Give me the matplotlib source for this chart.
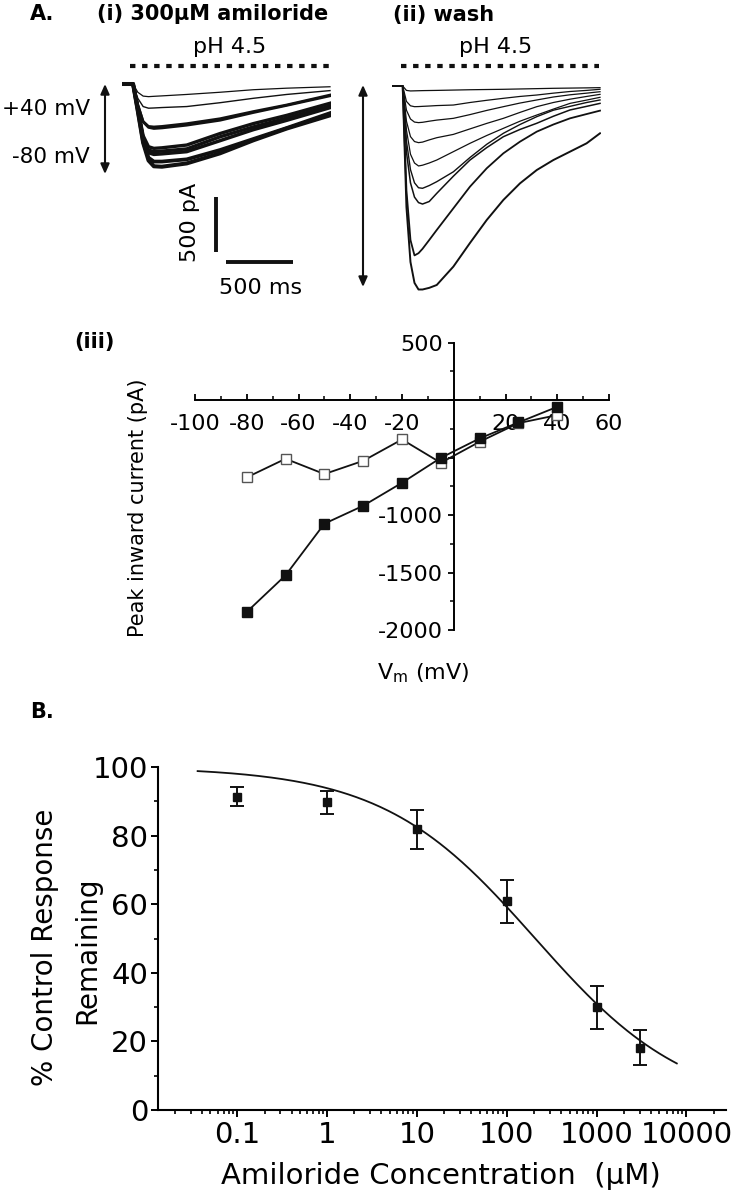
import numpy as np
import matplotlib.pyplot as plt
from matplotlib.ticker import FixedLocator, LogLocator, MultipleLocator, NullFormatter

plt.rcParams['font.family'] = ['DejaVu Sans']

# ---------------- data ----------------
# A(i) 300 uM amiloride: current (pA) on a common time grid (ms), one list per step potential
amil_t = [0, 85, 120, 160, 200, 240, 300, 485, 734, 982, 1231, 1554]
amil_traces = [
    [0, 0, -75, -110, -115, -112, -108, -95, -75, -52, -38, -25],         # +40
    [0, 0, -130, -205, -220, -218, -214, -205, -170, -130, -95, -60],     # +25
    [0, 0, -190, -340, -385, -390, -385, -360, -315, -250, -190, -100],   # +10
    [0, 0, -185, -345, -395, -405, -400, -375, -330, -260, -195, -108],   # -20
    [0, 0, -220, -470, -570, -585, -580, -555, -450, -360, -285, -175],   # -65
    [0, 0, -225, -490, -600, -615, -610, -590, -480, -390, -310, -200],   # -35
    [0, 0, -230, -500, -625, -640, -635, -615, -515, -415, -330, -215],   # -5
    [0, 0, -240, -525, -670, -705, -705, -685, -600, -500, -400, -265],   # -50
    [0, 0, -245, -535, -695, -748, -752, -722, -630, -512, -405, -285],   # -80
]
amil_lw = [0.9, 1.0, 1.9, 1.9, 2.4, 2.4, 2.5, 2.7, 2.9]

# A(ii) wash
wash_t = [0, 82, 110, 140, 170, 200, 230, 280, 336, 460, 584, 709, 833, 957, 1082, 1206, 1330, 1454, 1554]
wash_traces = [
    [0, 0, -40, -45, -44, -43, -42, -41, -40, -37, -34, -32, -30, -27, -24, -21, -19, -17, -15],                   # +40
    [0, 0, -140, -180, -188, -187, -185, -182, -178, -173, -150, -130, -112, -95, -82, -65, -50, -40, -30],        # +25
    [0, 0, -220, -300, -328, -333, -330, -320, -310, -294, -260, -222, -188, -155, -127, -100, -80, -65, -52],     # +10
    [0, 0, -320, -460, -505, -515, -510, -490, -470, -440, -390, -340, -294, -240, -188, -150, -120, -95, -76],    # -5
    [0, 0, -400, -620, -700, -727, -720, -700, -673, -597, -521, -450, -385, -320, -264, -210, -158, -128, -103],  # -20
    [0, 0, -500, -760, -880, -925, -930, -905, -870, -780, -650, -530, -430, -350, -279, -220, -185, -150, -127],  # -35
    [0, 0, -600, -880, -1010, -1060, -1073, -1050, -976, -820, -673, -560, -461, -395, -339, -275, -218, -185, -158],  # -50
    [0, 0, -950, -1400, -1540, -1520, -1480, -1400, -1309, -1112, -915, -748, -612, -506, -415, -350, -294, -255, -224],  # -65
    [0, 0, -1100, -1600, -1790, -1850, -1850, -1835, -1809, -1642, -1427, -1218, -1036, -885, -764, -673, -597, -521, -430],  # -80
]
wash_lw = [0.9, 0.9, 0.9, 0.9, 0.9, 1.0, 1.1, 1.3, 1.4]

# A(iii) I-V relation
vm = [-80, -65, -50, -35, -20, -5, 10, 25, 40]
peak_wash = [-1843, -1524, -1075, -919, -719, -502, -333, -194, -58]
peak_amil = [-672, -510, -643, -528, -342, -545, -362, -200, -130]
iv_xticks = [-100, -80, -60, -40, -20, 20, 40, 60]
iv_yticks = [500, 0, -500, -1000, -1500, -2000]
iv_ylabels = ['500', '', '', '-1000', '-1500', '-2000']

# B dose response
conc = [0.1, 1, 10, 100, 1000, 3000]
resp = [91.3, 89.7, 81.8, 60.8, 29.9, 18.2]
resp_err = [2.8, 3.3, 5.8, 6.2, 6.2, 5.1]
ic50 = 207.0
hill_n = 0.51
b_xticks = [0.1, 1, 10, 100, 1000, 10000]
b_xlabels = ['0.1', '1', '10', '100', '1000', '10000']

# ---------------- layout helpers (pixel coords) ----------------
W, H = 734, 1199
fig = plt.figure(figsize=(W / 100, H / 100), dpi=100)


def box(l, t, r, b):
    return fig.add_axes([l / W, 1 - b / H, (r - l) / W, (b - t) / H])


def ftext(x, y, s, **kw):
    fig.text(x / W, 1 - y / H, s, **kw)


ov = fig.add_axes([0, 0, 1, 1])
ov.set_xlim(0, W)
ov.set_ylim(H, 0)
ov.axis('off')

# ---------------- A(i), A(ii) traces ----------------
MS_PER_PX = 7.46
PX_PER_PA = 0.11


def trace_axes(left, base):
    ax = box(left, base - 200 * PX_PER_PA, left + 1560 / MS_PER_PX, base + 1900 * PX_PER_PA)
    ax.set_xlim(0, 1560)
    ax.set_ylim(-1900, 200)
    ax.axis('off')
    return ax


ax1 = trace_axes(121.7, 84)
for tr, lw in zip(amil_traces, amil_lw):
    ax1.plot(amil_t, tr, color='#111111', lw=lw, solid_joinstyle='round')
ax1.plot([62, 1554], [164, 164], color='#111111', lw=3, linestyle=(0, (1.3, 1.6)),
         dash_capstyle='butt', clip_on=False)
# scale bars: 500 pA, 500 ms
ax1.plot([703, 703], [-1030, -1530], color='#111111', lw=2.8, solid_capstyle='butt', clip_on=False)
ax1.plot([778, 1278], [-1615, -1615], color='#111111', lw=2.8, solid_capstyle='butt', clip_on=False)

ax2 = trace_axes(391.7, 86)
for tr, lw in zip(wash_traces, wash_lw):
    ax2.plot(wash_t, tr, color='#111111', lw=lw, solid_joinstyle='round')
ax2.plot([67, 1547], [182, 182], color='#111111', lw=3, linestyle=(0, (1.3, 1.6)),
         dash_capstyle='butt', clip_on=False)

arrow = dict(arrowstyle='<|-|>,head_length=0.45,head_width=0.2', lw=1.5, color='#111111',
             mutation_scale=13, shrinkA=0, shrinkB=0)
ov.annotate('', xy=(105, 84), xytext=(105, 174), arrowprops=arrow)
ov.annotate('', xy=(363, 85), xytext=(363, 287), arrowprops=arrow)

ftext(30, 20.5, 'A.', fontsize=15, fontweight='bold', va='baseline')
ftext(97, 20.5, '(i) 300μM amiloride', fontsize=15, fontweight='bold', va='baseline')
ftext(393, 20.5, '(ii) wash', fontsize=15, fontweight='bold', va='baseline')
ftext(230, 53, 'pH 4.5', fontsize=16, ha='center', va='baseline')
ftext(496, 53, 'pH 4.5', fontsize=16, ha='center', va='baseline')
ftext(90, 115, '+40 mV', fontsize=15.5, ha='right', va='baseline')
ftext(90, 163, '-80 mV', fontsize=15.5, ha='right', va='baseline')
ftext(190, 222, '500 pA', fontsize=16, rotation=90, ha='center', va='center')
ftext(261, 294, '500 ms', fontsize=16, ha='center', va='baseline')

# ---------------- A(iii) I-V ----------------
ax3 = box(195, 342.7, 609, 630)
ax3.set_xlim(-100, 60)
ax3.set_ylim(-2000, 500)
ax3.patch.set_visible(False)
ax3.spines['left'].set_position(('data', 0))
ax3.spines['bottom'].set_position(('data', 0))
ax3.spines[['top', 'right']].set_visible(False)
for s in ('left', 'bottom'):
    ax3.spines[s].set_linewidth(1.4)
ax3.xaxis.set_major_locator(FixedLocator(iv_xticks))
ax3.set_xticklabels([str(v) for v in iv_xticks])
ax3.xaxis.set_minor_locator(MultipleLocator(10))
ax3.yaxis.set_major_locator(FixedLocator(iv_yticks))
ax3.set_yticklabels(iv_ylabels)
ax3.yaxis.set_minor_locator(MultipleLocator(250))
ax3.tick_params(axis='x', which='major', direction='in', length=4.5, width=1.3, pad=10, labelsize=16)
ax3.tick_params(axis='x', which='minor', direction='in', length=3, width=1.1)
ax3.tick_params(axis='y', which='major', direction='out', length=4.5, width=1.3, pad=3.5, labelsize=16)
ax3.tick_params(axis='y', which='minor', direction='out', length=3, width=1.1)

ax3.plot(vm, peak_amil, '-s', color='#111111', lw=1.3, ms=6.5, mfc='white', mec='#555555',
         mew=1.0, clip_on=False, zorder=3)
ax3.plot(vm, peak_wash, '-s', color='#111111', lw=1.3, ms=6.5, mfc='#111111', mec='#111111',
         clip_on=False, zorder=4)

ftext(74, 348, '(iii)', fontsize=15, fontweight='bold', va='baseline')
ftext(137.6, 508, 'Peak inward current (pA)', fontsize=15, rotation=90, ha='center', va='center')
ftext(423, 673, r'V$_\mathrm{m}$ (mV)', fontsize=16, ha='center', va='center')

# ---------------- B dose response ----------------
axb = box(158, 767, 726, 1110)
axb.set_xscale('log')
axb.set_xlim(10 ** -1.885, 10 ** 4.44)
axb.set_ylim(0, 100)
axb.spines[['top', 'right']].set_visible(False)
for s in ('left', 'bottom'):
    axb.spines[s].set_linewidth(1.5)
axb.xaxis.set_major_locator(FixedLocator(b_xticks))
axb.set_xticklabels(b_xlabels)
axb.xaxis.set_minor_locator(LogLocator(base=10, subs=np.arange(2, 10)))
axb.xaxis.set_minor_formatter(NullFormatter())
axb.yaxis.set_major_locator(MultipleLocator(20))
axb.yaxis.set_minor_locator(MultipleLocator(10))
axb.tick_params(which='major', direction='out', length=5, width=1.4, labelsize=21)
axb.tick_params(which='minor', direction='out', length=2.6, width=1.2)
axb.tick_params(axis='y', which='major', pad=2.2)
axb.tick_params(axis='x', which='major', pad=3)

xs = np.logspace(np.log10(0.036), np.log10(7800), 300)
axb.plot(xs, 100 / (1 + (xs / ic50) ** hill_n), color='#111111', lw=1.3)
axb.errorbar(conc, resp, yerr=resp_err, fmt='s', color='#111111', ms=5.5, capsize=5,
             elinewidth=1.4, capthick=1.4, clip_on=False, zorder=4)

ftext(30, 718, 'B.', fontsize=15, fontweight='bold', va='baseline')
ftext(45, 947, '% Control Response', fontsize=20, rotation=90, ha='center', va='center')
ftext(87, 950, 'Remaining', fontsize=20, rotation=90, ha='center', va='center')
ftext(441, 1176, 'Amiloride Concentration  (μM)', fontsize=21, ha='center', va='center')

fig.savefig('out.png', dpi=100)
